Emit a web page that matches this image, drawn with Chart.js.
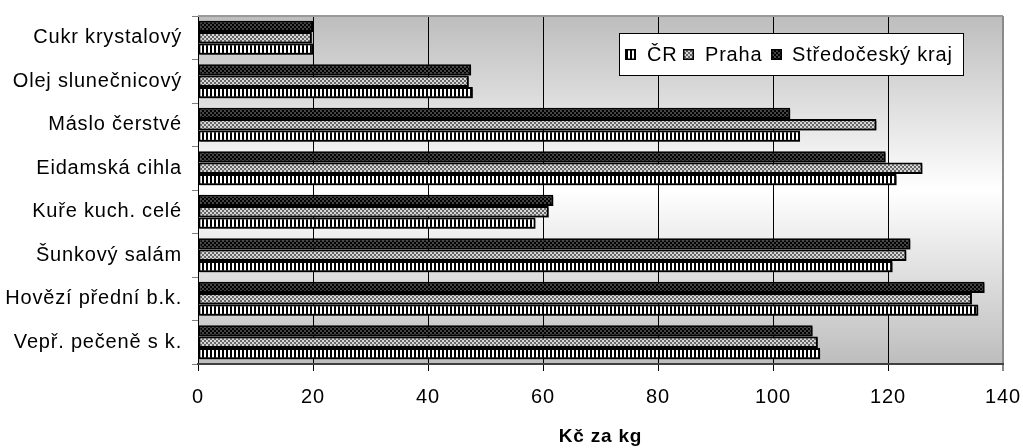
<!DOCTYPE html>
<html><head><meta charset="utf-8">
<script src="https://cdn.jsdelivr.net/npm/chart.js@4.4.0/dist/chart.umd.min.js"></script>
<style>html,body{margin:0;padding:0;background:#fff;overflow:hidden}</style>
</head><body>
<canvas id="c" width="1023" height="448" style="display:block;width:1023px;height:448px"></canvas>
<script>
const categories = ['Cukr krystalový','Olej slunečnicový','Máslo čerstvé','Eidamská cihla','Kuře kuch. celé','Šunkový salám','Hovězí přední b.k.','Vepř. pečeně s k.'];
const seriesNames = ['ČR','Praha','Středočeský kraj'];
const valuesCR    = [20.1, 47.8, 104.7, 121.5, 58.7, 120.8, 135.7, 108.2];
const valuesPraha = [19.8, 47.1, 118.0, 126.0, 61.0, 123.2, 134.6, 107.8];
const valuesStred = [20.0, 47.5, 103.0, 119.6, 61.8, 123.9, 136.8, 106.9];
const xTickValues = [0, 20, 40, 60, 80, 100, 120, 140];
const axisTitle = 'Kč za kg';

const canvas = document.getElementById('c');
const ctx0 = canvas.getContext('2d');
function makePattern(kind){
  const c = document.createElement('canvas'); c.width = 4; c.height = 4;
  const g = c.getContext('2d');
  if (kind === 'stripes'){
    g.fillStyle = '#000000'; g.fillRect(0,0,4,4);
    g.fillStyle = '#ffffff'; g.fillRect(0,0,2,4);
  } else if (kind === 'light'){
    g.fillStyle = '#d6d6d6'; g.fillRect(0,0,4,4);
    g.fillStyle = '#666666'; g.fillRect(0,0,2,2); g.fillRect(2,2,2,2);
  } else {
    g.fillStyle = '#444444'; g.fillRect(0,0,4,4);
    g.fillStyle = '#000000'; g.fillRect(0,0,2,2); g.fillRect(2,2,2,2);
  }
  return ctx0.createPattern(c, 'repeat');
}
const patCR = makePattern('stripes');
const patPraha = makePattern('light');
const patStred = makePattern('dark');
const FONT = "'Liberation Sans', Arial, sans-serif";
const SPACING = '0.8px';

const bgPlugin = {
  id: 'bg',
  beforeDraw(chart){
    const {ctx, chartArea:a} = chart;
    if ('letterSpacing' in ctx) ctx.letterSpacing = SPACING;
    const g = ctx.createLinearGradient(0, a.top, 0, a.bottom);
    g.addColorStop(0, '#bdbdbd');
    g.addColorStop(0.5, '#ffffff');
    g.addColorStop(1, '#bdbdbd');
    ctx.save(); ctx.fillStyle = g; ctx.fillRect(a.left, a.top, a.right - a.left, a.bottom - a.top);
    ctx.restore();
  },
  afterDraw(chart){
    const {ctx, chartArea:a} = chart;
    ctx.save();
    ctx.strokeStyle = '#9a9a9a'; ctx.lineWidth = 2;
    ctx.beginPath(); ctx.moveTo(a.left, a.top); ctx.lineTo(a.right, a.top); ctx.stroke();
    ctx.restore();
  }
};
const shadowPlugin = {
  id: 'shadow',
  beforeDatasetsDraw(chart){
    const ctx = chart.ctx; ctx.save();
    ctx.shadowColor = 'rgba(0,0,0,0.45)'; ctx.shadowOffsetX = 2; ctx.shadowOffsetY = 2; ctx.shadowBlur = 0;
  },
  afterDatasetsDraw(chart){ chart.ctx.restore(); }
};
const legendPlugin = {
  id: 'boxLegend',
  afterDraw(chart){
    const ctx = chart.ctx;
    ctx.save();
    ctx.fillStyle = '#ffffff'; ctx.fillRect(619.5, 33.5, 344, 42);
    ctx.strokeStyle = '#000'; ctx.lineWidth = 1; ctx.strokeRect(619.5, 33.5, 344, 42);
    const pats = [patCR, patPraha, patStred];
    const mx = [625, 683, 771], tx = [647, 705, 792];
    ctx.font = '20px ' + FONT; ctx.textBaseline = 'middle';
    for (let i = 0; i < 3; i++){
      ctx.fillStyle = '#000'; ctx.fillRect(mx[i], 49, 11, 11);
      ctx.fillStyle = pats[i]; ctx.fillRect(mx[i] + 1.5, 50.5, 8, 8);
      ctx.fillStyle = '#000'; ctx.fillText(seriesNames[i], tx[i], 55);
    }
    ctx.restore();
  }
};

new Chart(canvas, {
  type: 'bar',
  data: {
    labels: categories,
    datasets: [
      {label: seriesNames[2], data: valuesStred, backgroundColor: patStred},
      {label: seriesNames[1], data: valuesPraha, backgroundColor: patPraha},
      {label: seriesNames[0], data: valuesCR, backgroundColor: patCR}
    ]
  },
  options: {
    indexAxis: 'y',
    responsive: false,
    animation: false,
    devicePixelRatio: 1,
    layout: {padding: {top: 16, right: 20, left: 0, bottom: 0}},
    datasets: {bar: {categoryPercentage: 0.78, barPercentage: 1.0, borderColor: '#000', borderWidth: 2, borderSkipped: false}},
    plugins: {legend: {display: false}, tooltip: {enabled: false}},
    scales: {
      x: {
        min: 0, max: 140,
        afterBuildTicks(s){ s.ticks = xTickValues.map(v => ({value: v})); },
        afterFit(s){ s.height = 84; s.paddingLeft = 0; s.paddingRight = 0; },
        ticks: {color: '#000', font: {family: FONT, size: 20}, padding: 14},
        grid: {color: c => (c.tick && c.tick.value === 140) ? '#8a8a8a' : '#000', lineWidth: c => (c.tick && c.tick.value === 140) ? 2 : 1, tickLength: 7, drawOnChartArea: true},
        border: {color: '#404040', width: 2},
        title: {display: true, text: axisTitle, color: '#000', font: {family: FONT, size: 19, weight: 'bold'}, padding: {top: 16, bottom: 0}}
      },
      y: {
        afterFit(s){ s.width = 198; s.paddingTop = 0; s.paddingBottom = 0; },
        ticks: {color: '#000', font: {family: FONT, size: 20}, padding: 10},
        grid: {drawOnChartArea: false, drawTicks: true, tickLength: 6, color: '#808080', offset: true},
        border: {display: false}
      }
    }
  },
  plugins: [bgPlugin, shadowPlugin, legendPlugin]
});
</script>
</body></html>
